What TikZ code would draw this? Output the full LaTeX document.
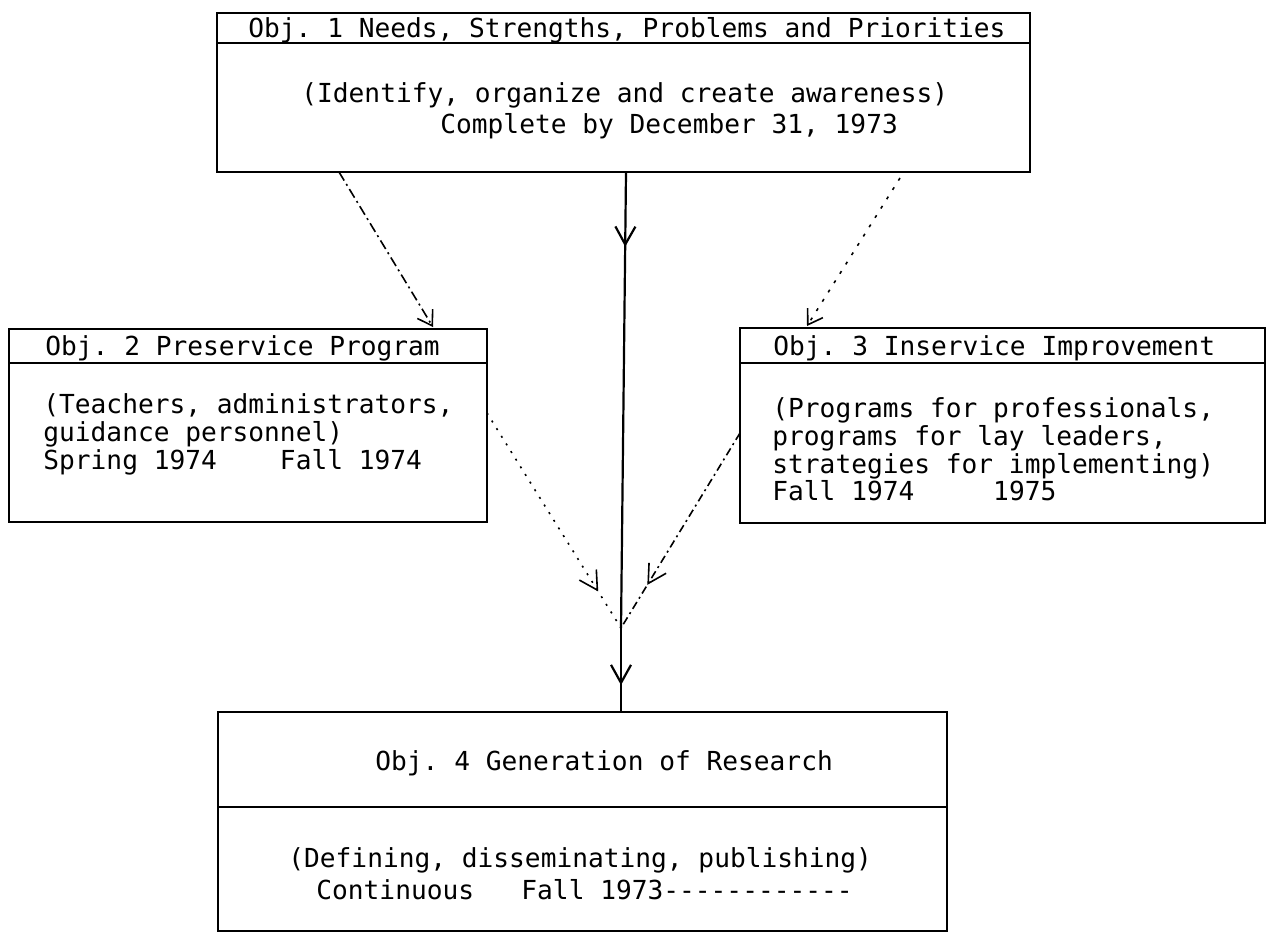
\documentclass[tikz,border=0pt]{standalone}
\usepackage{fontspec}
\setmonofont{DejaVu Sans Mono}
\usetikzlibrary{arrows.meta,calc,decorations.markings}

\newcommand{\objdashes}{\foreach \d in {1,...,12}{-\kern0pt}}

\begin{document}
\begin{tikzpicture}[x=0.5pt,y=-0.5pt,
    font=\ttfamily\fontsize{13.1}{15}\selectfont\frenchspacing]
  \tikzstyle{objbox}=[draw, line width=1.3pt, inner sep=0pt, outer sep=0pt]
  \tikzstyle{objrule}=[line width=1.3pt]
  \tikzstyle{typed}=[anchor=base west, inner sep=0pt]
  \tikzstyle{link}=[line width=0.8pt]
  \tikzstyle{barb}=[-{Straight Barb[length=7pt,width=9pt]}]
  \tikzset{midbarb/.style={postaction={decorate},
      decoration={markings, mark=at position #1 with
        {\arrow{Straight Barb[length=9pt,width=10pt]}}}}}

  \useasboundingbox (0,0) rectangle (1273,933);

  % Draw the objective boxes
  \node[objbox, minimum width=406.5pt, minimum height=79.5pt] (obj1) at (623.5,92.5) {};
  \node[objbox, minimum width=239pt, minimum height=96.5pt] (obj2) at (248,425.5) {};
  \node[objbox, minimum width=262.5pt, minimum height=97.5pt] (obj3) at (1002.5,425.5) {};
  \node[objbox, minimum width=364.5pt, minimum height=109.5pt] (obj4) at (582.5,821.5) {};

  % Title rules
  \draw[objrule] ($(obj1.north west)+(0,30)$) -- ($(obj1.north east)+(0,30)$);
  \draw[objrule] ($(obj2.north west)+(0,34)$) -- ($(obj2.north east)+(0,34)$);
  \draw[objrule] ($(obj3.north west)+(0,35)$) -- ($(obj3.north east)+(0,35)$);
  \draw[objrule] ($(obj4.north west)+(0,95)$) -- ($(obj4.north east)+(0,95)$);

  % Typed texts
  \node[typed] (obj1-title) at (248,37) {Obj. 1 Needs, Strengths, Problems and Priorities};
  \node[typed] (obj1-aim) at (301,102) {(Identify, organize and create awareness)};
  \node[typed] (obj1-date) at (440,133) {Complete by December 31, 1973};

  \node[typed] (obj2-title) at (45,355) {Obj. 2 Preservice Program};
  \node[typed] (obj2-aim) at (43,413) {(Teachers, administrators,};
  \node[typed] (obj2-aimb) at (43,441) {guidance personnel)};
  \node[typed] (obj2-date) at (43,469) {Spring 1974\ \ \ \ Fall 1974};

  \node[typed] (obj3-title) at (773,355) {Obj. 3 Inservice Improvement};
  \node[typed] (obj3-aim) at (772,417) {(Programs for professionals,};
  \node[typed] (obj3-aimb) at (772,445) {programs for lay leaders,};
  \node[typed] (obj3-aimc) at (772,473) {strategies for implementing)};
  \node[typed] (obj3-date) at (772,500) {Fall 1974\ \ \ \ \ 1975};

  \node[typed] (obj4-title) at (375,770) {Obj. 4 Generation of Research};
  \node[typed] (obj4-aim) at (288,867) {(Defining, disseminating, publishing)};
  \node[typed] (obj4-date) at (316,899) {Continuous\ \ \ Fall 1973\objdashes};

  % Connect the objectives
  \coordinate (join) at (621,628);
  \draw[link, barb, dash pattern=on 5pt off 2pt on 1pt off 2pt]
      ($(obj1.south west)+(122,0)$) -- ($(obj2.north west)+(424,-2)$);
  \draw[link, barb, dash pattern=on 1.5pt off 4pt]
      ($(obj1.south west)+(683,6)$) -- ($(obj3.north west)+(67,-2)$);
  \draw[line width=1.1pt, midbarb=0.164] ($(obj1.south west)+(409,0)$) -- (join);
  \draw[line width=1.1pt, midbarb=0.68] (join) -- ($(obj4.north west)+(403,0)$);
  \draw[link, midbarb=0.83, dash pattern=on 1pt off 3.5pt]
      ($(obj2.north east)+(0,84)$) -- (join);
  \draw[link, midbarb=0.78, dash pattern=on 4pt off 2pt on 1pt off 2pt]
      ($(obj3.north west)+(0,105)$) -- (join);
\end{tikzpicture}
\end{document}
